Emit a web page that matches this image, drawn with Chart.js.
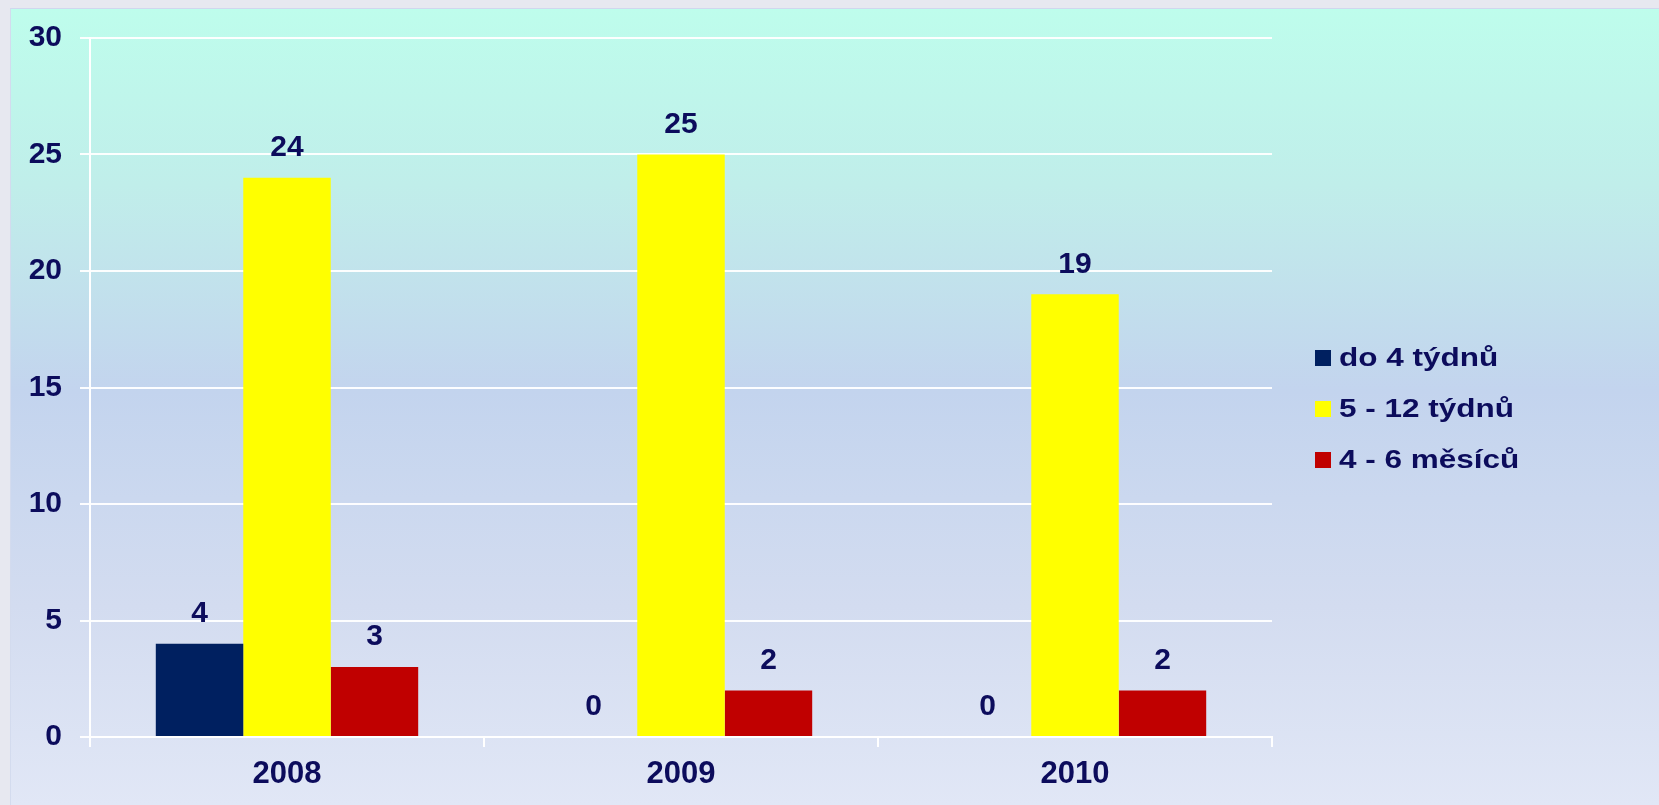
<!DOCTYPE html>
<html>
<head>
<meta charset="utf-8">
<script src="https://cdn.jsdelivr.net/npm/chart.js@4/dist/chart.umd.min.js"></script>
<style>
    body {
        margin: 0;
        width: 1659px;
        height: 805px;
        overflow: hidden;
        background: #e7e8f0;
        position: relative;
    }
    #panel {
        position: absolute;
        left: 10px;
        top: 8px;
        right: 0;
        bottom: 0;
        border-top: 1px solid #d0d7ee;
        border-left: 1px solid #d3dbee;
        background: linear-gradient(to bottom, #befdec 0%, #c0eeea 22%, #c3d4ee 48%, #d3dcf0 75%, #e1e7f6 100%);
    }
    #chart {
        position: absolute;
        left: 0;
        top: 0;
    }
</style>
</head>
<body>
<div id="panel"></div>
<canvas id="chart" width="1659" height="805"></canvas>
<script>
// Chart data
const years = ['2008', '2009', '2010'];
const seriesNames = ['do 4 týdnů', '5 - 12 týdnů', '4 - 6 měsíců'];
const upTo4Weeks = [4, 0, 0];
const weeks5to12 = [24, 25, 19];
const months4to6 = [3, 2, 2];
const yTicks = [0, 5, 10, 15, 20, 25, 30];

const seriesColors = ['#002060', '#ffff00', '#c00000'];
const textColor = '#0c0c5c';
const fontFamily = '"Liberation Sans", Arial, sans-serif';

// Value labels above bars
const valueLabels = {
    id: 'valueLabels',
    afterDatasetsDraw(chart) {
        const ctx = chart.ctx;
        ctx.save();
        ctx.font = `bold 30px ${fontFamily}`;
        ctx.fillStyle = textColor;
        ctx.textAlign = 'center';
        ctx.textBaseline = 'middle';
        chart.data.datasets.forEach((dataset, i) => {
            const meta = chart.getDatasetMeta(i);
            meta.data.forEach((bar, j) => {
                ctx.fillText(String(dataset.data[j]), bar.x, bar.y - 30);
            });
        });
        ctx.restore();
    }
};

// Legend on the right, drawn by hand (text is stretched wide in the original)
const sideLegend = {
    id: 'sideLegend',
    afterDraw(chart) {
        const ctx = chart.ctx;
        const area = chart.chartArea;
        const left = area.right + 43;
        const firstY = area.top + 320;
        const rowGap = 51;
        ctx.save();
        ctx.font = `bold 25px ${fontFamily}`;
        ctx.textBaseline = 'middle';
        ctx.textAlign = 'left';
        chart.data.datasets.forEach((dataset, i) => {
            const y = firstY + i * rowGap;
            ctx.fillStyle = dataset.backgroundColor;
            ctx.fillRect(left, y - 8, 16, 16);
            ctx.save();
            ctx.translate(left + 24, y + 1);
            ctx.scale(1.26, 1);
            ctx.fillStyle = textColor;
            ctx.fillText(dataset.label, 0, 0);
            ctx.restore();
        });
        ctx.restore();
    }
};

const seriesValues = [upTo4Weeks, weeks5to12, months4to6];

new Chart(document.getElementById('chart'), {
    type: 'bar',
    data: {
        labels: years,
        datasets: seriesValues.map((values, i) => ({
            label: seriesNames[i],
            data: values,
            backgroundColor: seriesColors[i],
            borderWidth: 0,
            categoryPercentage: 0.666,
            barPercentage: 1.0
        }))
    },
    options: {
        responsive: false,
        animation: false,
        layout: {
            padding: { left: 10, top: 38, right: 387, bottom: 0 }
        },
        plugins: {
            legend: { display: false },
            tooltip: { enabled: false }
        },
        scales: {
            x: {
                offset: true,
                grid: {
                    offset: true,
                    drawOnChartArea: false,
                    drawTicks: true,
                    tickLength: 10,
                    color: '#ffffff',
                    lineWidth: 2
                },
                border: { display: true, color: '#ffffff', width: 2 },
                ticks: {
                    color: textColor,
                    padding: 9,
                    font: { family: fontFamily, size: 31, weight: 'bold' }
                },
                afterFit: scale => { scale.height = 68; }
            },
            y: {
                min: 0,
                max: yTicks[yTicks.length - 1],
                afterBuildTicks: scale => {
                    scale.ticks = yTicks.map(v => ({ value: v }));
                },
                grid: {
                    color: 'rgba(255,255,255,0.95)',
                    lineWidth: 2,
                    tickLength: 10
                },
                border: { display: true, color: '#ffffff', width: 2 },
                ticks: {
                    color: textColor,
                    padding: 18,
                    font: { family: fontFamily, size: 30, weight: 'bold' }
                },
                afterFit: scale => { scale.width = 80; }
            }
        }
    },
    plugins: [valueLabels, sideLegend]
});
</script>
</body>
</html>
